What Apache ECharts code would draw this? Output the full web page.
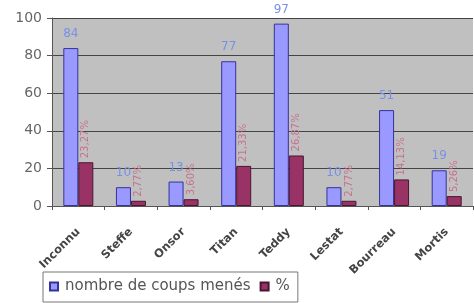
<!DOCTYPE html>
<html>
<head>
<meta charset="utf-8">
<script src="https://cdn.jsdelivr.net/npm/echarts@6/dist/echarts.min.js"></script>
<style>
html,body{margin:0;padding:0;background:#fff;}
#c{width:474px;height:303px;}
</style>
</head>
<body>
<div id="c"></div>
<script>
var categories = ["Inconnu", "Steffe", "Onsor", "Titan", "Teddy", "Lestat", "Bourreau", "Mortis"];
var coups = [84, 10, 13, 77, 97, 10, 51, 19];
var pct = [23.27, 2.77, 3.60, 21.33, 26.87, 2.77, 14.13, 5.26];
var yTicks = [0, 20, 40, 60, 80, 100];
var seriesNames = ["nombre de coups menés", "%"];

var chart = echarts.init(document.getElementById('c'), null, {renderer: 'canvas'});
chart.setOption({
  animation: false,
  backgroundColor: '#ffffff',
  textStyle: {fontFamily: 'DejaVu Sans, sans-serif'},
  grid: {left: 52, right: 1, top: 18, bottom: 97, show: true, backgroundColor: '#c0c0c0', borderWidth: 0},
  legend: {
    data: seriesNames,
    left: 43, top: 272,
    itemWidth: 8, itemHeight: 8, itemGap: 9,
    icon: 'rect',
    borderColor: '#777', borderWidth: 1, padding: [7, 8, 8, 6],
    textStyle: {fontFamily: 'DejaVu Sans', fontSize: 15, color: '#555', padding: [0, 0, 0, 2]}
  },
  xAxis: {
    type: 'category', data: categories,
    axisLine: {lineStyle: {color: '#555'}},
    axisTick: {show: true, length: 4, lineStyle: {color: '#555'}},
    axisLabel: {rotate: 45, fontSize: 11.5, fontWeight: 'bold', color: '#444', margin: 24, interval: 0}
  },
  yAxis: {
    type: 'value', min: yTicks[0], max: yTicks[yTicks.length - 1], interval: 20,
    axisLine: {show: true, lineStyle: {color: '#555'}},
    axisTick: {show: true, length: 5, lineStyle: {color: '#555'}},
    axisLabel: {fontSize: 14, color: '#666', margin: 10},
    splitLine: {lineStyle: {color: '#444', width: 1}}
  },
  series: [
    {
      name: seriesNames[0], type: 'bar', data: coups,
      barWidth: 15, barGap: '0%',
      itemStyle: {color: '#9999ff', borderColor: '#333399', borderWidth: 1},
      label: {show: true, position: 'top', distance: 8, color: '#7891e8', fontSize: 12}
    },
    {
      name: seriesNames[1], type: 'bar', data: pct,
      barWidth: 15,
      itemStyle: {color: '#993366', borderColor: '#4a1530', borderWidth: 1},
      label: {
        show: true, position: 'top', rotate: 90, align: 'left', verticalAlign: 'middle',
        distance: 4, color: '#c8708e', fontSize: 10,
        formatter: function (p) { return p.value.toFixed(2).replace('.', ',') + '%'; }
      }
    }
  ]
});
</script>
</body>
</html>
